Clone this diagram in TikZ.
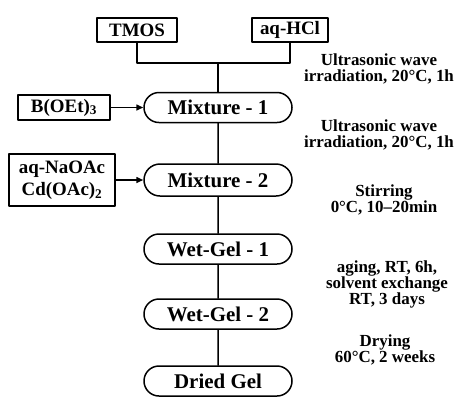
\documentclass[tikz,border=0pt]{standalone}
\usepackage{fontspec}
\setmainfont{Liberation Serif}
\usetikzlibrary{positioning, arrows.meta, shapes.misc}

\tikzset{
	srcbox/.style={draw, line width=1.5bp, inner sep=1bp, align=center,
		font=\bfseries\fontsize{19}{22}\selectfont},
	procnode/.style={draw, rounded rectangle, line width=1.5bp, inner sep=1bp,
		minimum width=150bp, minimum height=30bp,
		font=\bfseries\fontsize{21}{22}\selectfont},
	condtext/.style={align=center, inner sep=0pt,
		font=\bfseries\fontsize{17}{16}\selectfont},
	flow/.style={line width=1.5bp},
	feed/.style={line width=1.5bp, -{Triangle[length=7bp, width=6bp]}},
}

\begin{document}
\begin{tikzpicture}[x=1bp, y=-1bp, line cap=round, line join=round]
\useasboundingbox (0,0) rectangle (458,397);

\node[srcbox, minimum width=80bp, minimum height=24bp] (tmos) at (137,30) {TMOS};
\node[srcbox, minimum width=76bp, minimum height=24bp] (hcl) at (290,30) {aq-HCl};
\coordinate (join) at (218,63);

\node[procnode] (mix1) at (218,107.5) {Mixture - 1};
\node[procnode, minimum height=32bp] (mix2) at (218,180) {Mixture - 2};
\node[procnode] (wg1) at (218,249) {Wet-Gel - 1};
\node[procnode] (wg2) at (218,314) {Wet-Gel - 2};
\node[procnode] (dried) at (218,381) {Dried Gel};

\node[srcbox, minimum width=92bp, minimum height=25bp] (boet) at (64,107.5) {B(OEt)\textsubscript{3}};
\node[srcbox, minimum width=106bp, minimum height=52bp] (naoac) at (62,180) {aq-NaOAc\\Cd(OAc)\textsubscript{2}};

\draw[flow] (tmos.south) |- (join) -| (hcl.south);
\draw[flow] (join) -- (mix1.north);
\draw[flow] (mix1) -- (mix2);
\draw[flow] (mix2) -- (wg1);
\draw[flow] (wg1) -- (wg2);
\draw[flow] (wg2) -- (dried);

\draw[feed] (boet) -- (mix1);
\draw[feed] (naoac) -- (mix2);

\node[condtext] (c1) at (379,69) {Ultrasonic wave\\irradiation, 20°C, 1h};
\node[condtext] (c2) at (379,135) {Ultrasonic wave\\irradiation, 20°C, 1h};
\node[condtext] (c3) at (384,200) {Stirring\\0°C, 10--20min};
\node[condtext] (c4) at (387,284) {aging, RT, 6h,\\solvent exchange\\RT, 3 days};
\node[condtext] (c5) at (385,350) {Drying\\60°C, 2 weeks};

\end{tikzpicture}
\end{document}
